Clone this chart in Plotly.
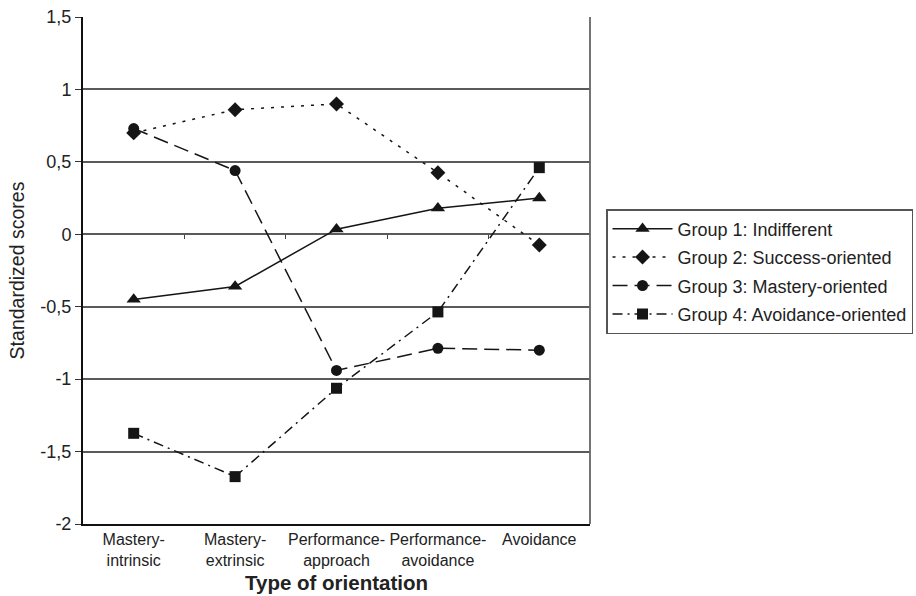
import plotly.graph_objects as go

categories = ["Mastery-<br>intrinsic", "Mastery-<br>extrinsic", "Performance-<br>approach",
              "Performance-<br>avoidance", "Avoidance"]
group1 = [-0.45, -0.36, 0.035, 0.18, 0.25]
group2 = [0.70, 0.86, 0.90, 0.425, -0.074]
group3 = [0.73, 0.44, -0.94, -0.787, -0.80]
group4 = [-1.374, -1.673, -1.063, -0.536, 0.46]
names = ["Group 1: Indifferent", "Group 2: Success-oriented",
         "Group 3: Mastery-oriented", "Group 4: Avoidance-oriented"]
ytick_vals = [1.5, 1, 0.5, 0, -0.5, -1, -1.5, -2]
ytick_text = ["1,5", "1", "0,5", "0", "-0,5", "-1", "-1,5", "-2"]
x_title = "Type of orientation"
y_title = "Standardized scores"

FONT = "Liberation Sans, Arial, sans-serif"
INK = "#151515"
TXT = "#222"

styles = [
    dict(dash="solid", symbol="triangle-up", size=12.5),
    dict(dash="3px,7px", symbol="diamond", size=11.5),
    dict(dash="15px,7px", symbol="circle", size=11),
    dict(dash="10px,5px,2px,5px", symbol="square", size=11),
]

fig = go.Figure()
for i, (vals, nm, st) in enumerate(zip([group1, group2, group3, group4], names, styles)):
    fig.add_trace(go.Scatter(
        x=list(range(len(categories))), y=vals, name=nm, mode="lines+markers",
        legendgroup=f"g{i}",
        line=dict(color=INK, width=1.5, dash=st["dash"]),
        marker=dict(symbol=st["symbol"], size=st["size"], color=INK, line=dict(width=0)),
    ))

# invisible helper trace on the second x axis (tick marks at category boundaries on the zero line)
fig.add_trace(go.Scatter(x=[-0.5, 4.5], y=[0, 0], xaxis="x2", mode="lines",
                         line=dict(width=0), showlegend=False, hoverinfo="skip"))

fig.update_layout(
    width=916, height=596,
    margin=dict(l=83, r=326, t=17, b=72, autoexpand=False),
    paper_bgcolor="white", plot_bgcolor="white",
    font=dict(family=FONT, size=16, color=TXT),
    showlegend=True,
    legend=dict(
        x=1.0316, y=(524 - 209) / 507, xanchor="left", yanchor="top",
        bordercolor="#555", borderwidth=1.5, bgcolor="white",
        font=dict(family=FONT, size=18, color=TXT),
        itemwidth=60, tracegroupgap=2,
    ),
    xaxis=dict(
        range=[-0.5, 4.5], tickvals=list(range(len(categories))), ticktext=categories,
        showgrid=False, zeroline=False, ticks="", showline=True, linecolor="#111", linewidth=1.5,
        tickfont=dict(family=FONT, size=16, color=TXT),
    ),
    xaxis2=dict(
        overlaying="x", anchor="free", position=(0 - (-2)) / 3.5, side="bottom",
        range=[-0.5, 4.5], tickvals=[0.5, 1.5, 2.5, 3.5], ticks="outside", ticklen=4,
        tickcolor="#444", tickwidth=1.2, showticklabels=False, showgrid=False, showline=False,
        zeroline=False,
    ),
    yaxis=dict(
        range=[-2, 1.5], tickvals=ytick_vals, ticktext=ytick_text,
        showgrid=True, gridcolor="#5a5a5a", gridwidth=1.8, zeroline=False,
        showline=True, linecolor="#111", linewidth=2,
        ticks="outside", ticklen=6, tickcolor="#333", tickwidth=1.2,
        tickfont=dict(family=FONT, size=18, color=TXT),
        title=dict(text=y_title, font=dict(family=FONT, size=19.5, color=TXT), standoff=11),
    ),
    annotations=[dict(text=f"<b>{x_title}</b>", xref="paper", yref="paper", x=0.5,
                      y=-(582 - 524) / 507, xanchor="center", yanchor="middle",
                      showarrow=False, font=dict(family=FONT, size=20.5, color=TXT))],
    shapes=[dict(type="line", xref="paper", yref="paper", x0=1, x1=1, y0=0, y1=1,
                 line=dict(color="#666", width=1.8))],
)

fig.write_html("out.html", config={"displayModeBar": False},
               post_script="document.body.style.margin='0';")
